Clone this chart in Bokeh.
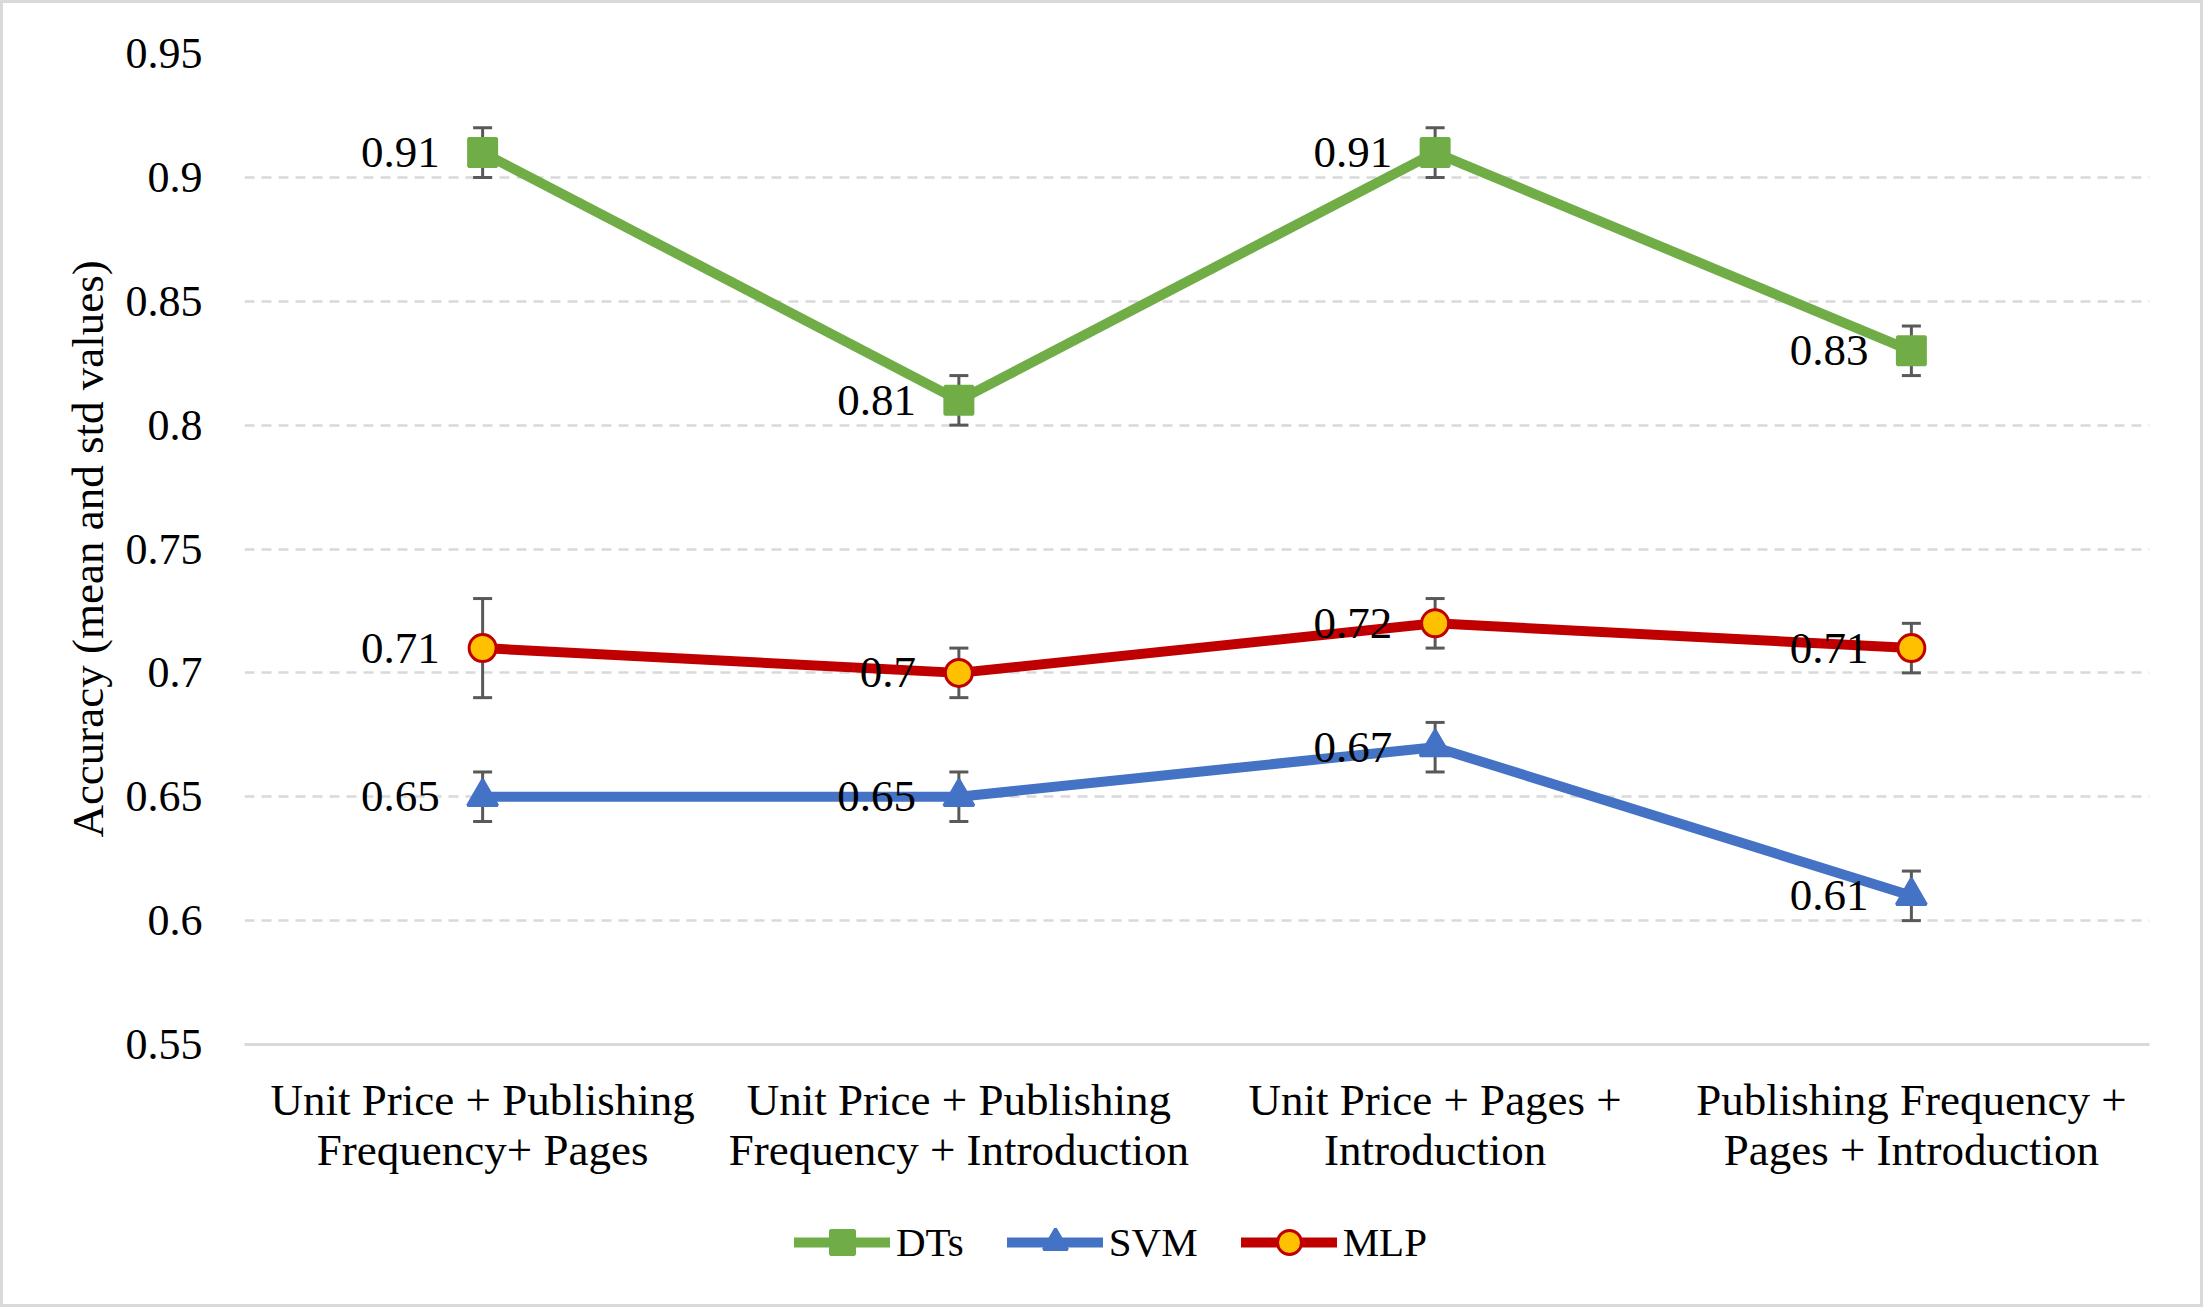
from bokeh.plotting import figure
from bokeh.layouts import column
from bokeh.models import (ColumnDataSource, FixedTicker, Whisker, TeeHead,
                          Legend, LegendItem, Range1d)
from bokeh.embed import file_html
from bokeh.resources import INLINE
from bokeh.core.properties import value

# ---------------- data ----------------
categories = [
    "Unit Price + Publishing\nFrequency+ Pages",
    "Unit Price + Publishing\nFrequency + Introduction",
    "Unit Price + Pages +\nIntroduction",
    "Publishing Frequency +\nPages + Introduction",
]
x_pos = [0, 1, 2, 3]

dts_mean = [0.91, 0.81, 0.91, 0.83]
dts_std = [0.01, 0.01, 0.01, 0.01]
svm_mean = [0.65, 0.65, 0.67, 0.61]
svm_std = [0.01, 0.01, 0.01, 0.01]
mlp_mean = [0.71, 0.70, 0.72, 0.71]
mlp_std = [0.02, 0.01, 0.01, 0.01]

y_ticks = [0.55, 0.6, 0.65, 0.7, 0.75, 0.8, 0.85, 0.9, 0.95]
y_tick_labels = ["0.55", "0.6", "0.65", "0.7", "0.75", "0.8", "0.85", "0.9", "0.95"]

FONT = "Liberation Serif"
FS = "45px"

# ---------------- main figure ----------------
p = figure(width=2197, height=1190, x_range=Range1d(-0.5, 3.5),
           y_range=Range1d(0.55, 0.95), output_backend="svg",
           toolbar_location=None, min_border_left=241, min_border_right=51,
           min_border_top=50, min_border_bottom=149)
p.background_fill_color = "white"
p.border_fill_color = "white"
p.outline_line_color = None

p.xaxis.ticker = FixedTicker(ticks=x_pos)
p.xaxis.major_label_overrides = {x: c for x, c in zip(x_pos, categories)}
p.yaxis.ticker = FixedTicker(ticks=y_ticks)
p.yaxis.major_label_overrides = {t: l for t, l in zip(y_ticks, y_tick_labels)}

for ax in (p.xaxis, p.yaxis):
    ax.major_tick_line_color = None
    ax.minor_tick_line_color = None
    ax.major_label_text_font = FONT
    ax.major_label_text_color = "black"
p.xaxis.major_label_text_font_size = FS
p.yaxis.major_label_text_font_size = "44px"
p.xaxis.axis_line_color = "#d9d9d9"
p.xaxis.axis_line_width = 3
p.xaxis.major_label_standoff = 24
p.xaxis.major_label_text_line_height = 1.0
p.yaxis.axis_line_color = None
p.yaxis.major_label_standoff = 36
p.yaxis.axis_label = "Accuracy (mean and std values)"
p.yaxis.axis_label_text_font = FONT
p.yaxis.axis_label_text_font_size = FS
p.yaxis.axis_label_text_font_style = "normal"
p.yaxis.axis_label_text_color = "black"
p.yaxis.axis_label_standoff = 10

p.xgrid.grid_line_color = None
p.ygrid.grid_line_color = "#d9d9d9"
p.ygrid.grid_line_width = 2.5
p.ygrid.grid_line_dash = "10 7"

# ---------------- legend strip ----------------
lf = figure(width=2197, height=111, x_range=Range1d(0, 1), y_range=Range1d(0, 1),
            output_backend="svg", toolbar_location=None, min_border=0,
            x_axis_type=None, y_axis_type=None)
lf.outline_line_color = None
lf.background_fill_color = "white"
lf.border_fill_color = "white"
lf.xgrid.grid_line_color = None
lf.ygrid.grid_line_color = None

series = [
    ("DTs", dts_mean, dts_std, "#70AD47", "square", "#70AD47", "#70AD47", 28),
    ("SVM", svm_mean, svm_std, "#4472C4", "triangle", "#4472C4", "#4472C4", 30),
    ("MLP", mlp_mean, mlp_std, "#C00000", "circle", "#FFC000", "#C00000", 27),
]

items = []
for name, mean, std, color, marker, fill, edge, size in series:
    src = ColumnDataSource(dict(
        x=x_pos, y=mean,
        upper=[m + s for m, s in zip(mean, std)],
        lower=[m - s for m, s in zip(mean, std)],
        label=[f"{m:g}" for m in mean],
    ))
    p.line("x", "y", source=src, line_color=color, line_width=10,
           line_join="round", line_cap="round")
    w = Whisker(base="x", upper="upper", lower="lower", source=src,
                dimension="height", line_color="#595959", line_width=3,
                upper_head=TeeHead(size=19, line_color="#595959", line_width=3),
                lower_head=TeeHead(size=19, line_color="#595959", line_width=3))
    p.add_layout(w)
    p.scatter("x", "y", source=src, marker=marker, size=size,
              fill_color=fill, line_color=edge, line_width=3)
    p.text("x", "y", text="label", source=src, x_offset=-43,
           text_align="right", text_baseline="middle",
           text_font=value(FONT), text_font_size=value(FS), text_color="black")
    # legend glyphs live in the strip below (their points sit outside its view)
    lsrc = ColumnDataSource(dict(x=[-10, -9], y=[-10, -9]))
    lr = lf.line("x", "y", source=lsrc, line_color=color, line_width=10,
                 line_cap="round")
    sr = lf.scatter("x", "y", source=lsrc, marker=marker, size=size - 4,
                    fill_color=fill, line_color=edge, line_width=3)
    items.append(LegendItem(label=name, renderers=[lr, sr]))

legend = Legend(items=items, orientation="horizontal", location=(550, 32),
                glyph_width=96, glyph_height=60, label_standoff=6, spacing=43,
                padding=0, margin=0, border_line_color=None,
                background_fill_alpha=0, label_text_font=FONT,
                label_text_font_size="41px", label_text_color="black")
lf.add_layout(legend)

layout = column(p, lf, spacing=0,
                styles={"border": "3px solid #d9d9d9", "background": "white"})

open("out.html", "w").write(file_html(layout, INLINE))
